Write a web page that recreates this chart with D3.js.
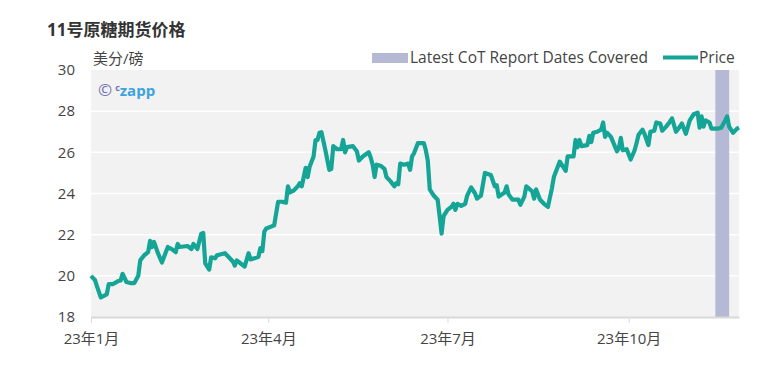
<!DOCTYPE html>
<html>
<head>
<meta charset="utf-8">
<script src="https://cdn.jsdelivr.net/npm/d3@7"></script>
<style>
  body { margin: 0; background: #fff; }
  text { font-family: "Open Sans", "Noto Sans", "Noto Sans CJK SC", sans-serif; }
</style>
</head>
<body>
<div id="chart"></div>
<script>
var svgWidth = 779;
var svgHeight = 380;

var margin = { top: 70, right: 40, bottom: 63, left: 91 };
var width = svgWidth - margin.left - margin.right;
var height = svgHeight - margin.top - margin.bottom;

// price series (US cents / lb)
var priceDates = [
  "2023-01-01","2023-01-03","2023-01-04","2023-01-06","2023-01-09","2023-01-10","2023-01-12","2023-01-13",
  "2023-01-15","2023-01-16","2023-01-17","2023-01-19","2023-01-21","2023-01-23","2023-01-25","2023-01-26",
  "2023-01-28","2023-01-30","2023-01-31","2023-02-01","2023-02-02","2023-02-04","2023-02-06","2023-02-09",
  "2023-02-11","2023-02-13","2023-02-14","2023-02-15","2023-02-19","2023-02-21","2023-02-22","2023-02-24",
  "2023-02-26","2023-02-27","2023-02-28","2023-03-02","2023-03-03","2023-03-05","2023-03-06","2023-03-10",
  "2023-03-12","2023-03-14","2023-03-15","2023-03-16","2023-03-18","2023-03-20","2023-03-22","2023-03-23",
  "2023-03-25","2023-03-27","2023-03-28","2023-03-29","2023-03-30","2023-03-31","2023-04-04","2023-04-06",
  "2023-04-08","2023-04-10","2023-04-11","2023-04-12","2023-04-14","2023-04-16","2023-04-17","2023-04-18",
  "2023-04-20","2023-04-21","2023-04-22","2023-04-24","2023-04-25","2023-04-26","2023-04-27","2023-04-28",
  "2023-04-30","2023-05-02","2023-05-03","2023-05-04","2023-05-06","2023-05-08","2023-05-09","2023-05-10",
  "2023-05-11","2023-05-14","2023-05-16","2023-05-17","2023-05-19","2023-05-22","2023-05-23","2023-05-24",
  "2023-05-25","2023-05-26","2023-05-28","2023-05-30","2023-05-31","2023-06-02","2023-06-04","2023-06-05",
  "2023-06-06","2023-06-07","2023-06-09","2023-06-11","2023-06-12","2023-06-13","2023-06-14","2023-06-16",
  "2023-06-19","2023-06-20","2023-06-21","2023-06-22","2023-06-24","2023-06-26","2023-06-27","2023-06-28",
  "2023-06-29","2023-07-01","2023-07-03","2023-07-04","2023-07-05","2023-07-06","2023-07-08","2023-07-10",
  "2023-07-11","2023-07-13","2023-07-15","2023-07-16","2023-07-18","2023-07-20","2023-07-23","2023-07-25",
  "2023-07-26","2023-07-27","2023-07-30","2023-07-31","2023-08-01","2023-08-03","2023-08-06","2023-08-07",
  "2023-08-09","2023-08-10","2023-08-13","2023-08-14","2023-08-15","2023-08-17","2023-08-19","2023-08-21",
  "2023-08-23","2023-08-24","2023-08-27","2023-08-28","2023-08-30","2023-08-31","2023-09-03","2023-09-04",
  "2023-09-05","2023-09-06","2023-09-07","2023-09-10","2023-09-11","2023-09-12","2023-09-13","2023-09-15",
  "2023-09-17","2023-09-18","2023-09-19","2023-09-20","2023-09-22","2023-09-25","2023-09-26","2023-09-27",
  "2023-09-28","2023-09-30","2023-10-02","2023-10-04","2023-10-05","2023-10-06","2023-10-08","2023-10-09",
  "2023-10-11","2023-10-12","2023-10-14","2023-10-15","2023-10-17","2023-10-18","2023-10-20","2023-10-22",
  "2023-10-23","2023-10-25","2023-10-27","2023-10-28","2023-10-30","2023-11-01","2023-11-03","2023-11-05",
  "2023-11-06","2023-11-07","2023-11-08","2023-11-09","2023-11-11","2023-11-12","2023-11-15","2023-11-17",
  "2023-11-19","2023-11-20","2023-11-21","2023-11-23","2023-11-25","2023-11-26"
];
var prices = [
  20.0, 19.8, 19.5, 18.95, 19.1, 19.6, 19.6, 19.65,
  19.75, 19.77, 20.1, 19.7, 19.65, 19.65, 20.0, 20.75,
  21.0, 21.15, 21.7, 21.4, 21.65, 21.1, 20.65, 21.4,
  21.3, 21.15, 21.55, 21.4, 21.45, 21.3, 21.55, 21.3,
  22.05, 22.08, 20.6, 20.3, 20.9, 20.85, 21.0, 21.1,
  20.9, 20.7, 20.5, 20.75, 20.6, 20.45, 21.1, 20.8,
  20.85, 20.93, 21.35, 21.2, 22.15, 22.3, 22.45, 23.6,
  23.6, 23.55, 24.35, 24.05, 24.15, 24.35, 24.5, 24.35,
  25.25, 24.8, 25.3, 25.8, 26.6, 26.6, 26.95, 26.98,
  26.1, 25.15, 25.2, 26.3, 26.15, 26.15, 26.6, 26.0,
  26.25, 26.3, 26.05, 25.6, 25.8, 26.0, 25.75, 25.4,
  24.8, 25.4, 25.35, 25.2, 24.8, 24.6, 24.35, 24.5,
  24.45, 25.45, 25.4, 25.45, 25.15, 25.8, 25.95, 26.45,
  26.45, 26.1, 25.6, 24.2, 23.9, 23.7, 22.9, 22.05,
  22.9, 23.2, 23.35, 23.5, 23.2, 23.5, 23.4, 23.5,
  23.9, 24.3, 24.0, 23.75, 23.9, 25.0, 24.9, 24.35,
  24.4, 23.85, 24.05, 24.35, 23.95, 23.7, 23.7, 23.45,
  23.85, 24.35, 24.1, 23.75, 24.2, 23.7, 23.5, 23.35,
  24.25, 24.8, 25.55, 25.4, 25.1, 25.8, 25.8, 26.6,
  26.25, 26.6, 26.3, 26.35, 26.8, 26.5, 26.95, 27.0,
  27.1, 27.45, 26.75, 26.95, 26.75, 26.05, 26.2, 26.7,
  26.1, 26.15, 25.65, 26.1, 26.45, 26.85, 27.1, 26.9,
  26.35, 27.0, 27.05, 27.45, 27.4, 27.05, 27.25, 27.5,
  27.65, 27.0, 27.25, 27.4, 26.9, 27.55, 27.85, 27.93,
  27.2, 27.75, 27.25, 27.55, 27.45, 27.15, 27.15, 27.2,
  27.55, 27.75, 27.25, 26.95, 27.15, 27.2
];

var cotRange = ["2023-11-14", "2023-11-21"];
var xDomain = ["2023-01-01", "2023-11-26"];
var xTickDates = ["2023-01-01", "2023-04-01", "2023-07-01", "2023-10-01"];
var xTickLabels = ["23年1月", "23年4月", "23年7月", "23年10月"];
var yTicks = [18, 20, 22, 24, 26, 28, 30];

var parseDate = d3.timeParse("%Y-%m-%d");

var priceData = priceDates.map(function(d, i) {
  return { date: parseDate(d), price: prices[i] };
});

var svg = d3.select("#chart")
  .append("svg")
  .attr("width", svgWidth)
  .attr("height", svgHeight);

var chartGroup = svg.append("g")
  .attr("transform", `translate(${margin.left}, ${margin.top})`);

var xTimeScale = d3.scaleTime()
  .domain(xDomain.map(parseDate))
  .range([0, width]);

var yLinearScale = d3.scaleLinear()
  .domain([18, 30])
  .range([height, 0]);

// plot background
chartGroup.append("rect")
  .attr("width", width)
  .attr("height", height)
  .attr("fill", "#f2f2f2");

// gridlines
chartGroup.append("g")
  .selectAll("line")
  .data(yTicks.slice(1, -1))
  .enter()
  .append("line")
  .attr("x1", 0)
  .attr("x2", width)
  .attr("y1", d => yLinearScale(d))
  .attr("y2", d => yLinearScale(d))
  .attr("stroke", "#ffffff")
  .attr("stroke-width", 1.5);

// CoT band
chartGroup.append("rect")
  .attr("x", xTimeScale(parseDate(cotRange[0])))
  .attr("y", 0)
  .attr("width", xTimeScale(parseDate(cotRange[1])) - xTimeScale(parseDate(cotRange[0])))
  .attr("height", height)
  .attr("fill", "#b5b9d3");

// axes
var leftAxis = d3.axisLeft(yLinearScale)
  .tickValues(yTicks)
  .tickSize(0)
  .tickPadding(16);

var yAxisG = chartGroup.append("g").call(leftAxis);
yAxisG.select(".domain").remove();
yAxisG.selectAll("text")
  .attr("fill", "#444")
  .style("font-size", "15px");

var bottomAxis = d3.axisBottom(xTimeScale)
  .tickValues(xTickDates.map(parseDate))
  .tickFormat((d, i) => xTickLabels[i])
  .tickSizeInner(6)
  .tickSizeOuter(0)
  .tickPadding(10);

var xAxisG = chartGroup.append("g")
  .attr("transform", `translate(0, ${height})`)
  .call(bottomAxis);
xAxisG.select(".domain").attr("stroke", "#d9d9d9").attr("stroke-width", 2);
xAxisG.selectAll(".tick line").attr("stroke", "#d9d9d9");
xAxisG.selectAll("text")
  .attr("fill", "#444")
  .style("font-size", "15px");

// price line
var priceLine = d3.line()
  .x(d => xTimeScale(d.date))
  .y(d => yLinearScale(d.price));

chartGroup.append("path")
  .datum(priceData)
  .attr("d", priceLine)
  .attr("fill", "none")
  .attr("stroke", "#15a597")
  .attr("stroke-width", 4.2)
  .attr("stroke-linejoin", "round");

// title and unit
svg.append("text")
  .attr("x", 47)
  .attr("y", 36)
  .attr("fill", "#333")
  .style("font-size", "17px")
  .style("font-weight", "bold")
  .text("11号原糖期货价格");

svg.append("text")
  .attr("x", 93)
  .attr("y", 64)
  .attr("fill", "#444")
  .style("font-size", "15px")
  .text("美分/磅");

// watermark
var mark = svg.append("text")
  .attr("x", 98)
  .attr("y", 96)
  .style("font-size", "15px");
mark.append("tspan").attr("fill", "#6f73b5").style("font-size", "17px").text("©");
mark.append("tspan").attr("fill", "#6f73b5").attr("dx", 3).attr("dy", -5)
  .style("font-size", "9px").style("font-weight", "bold").text("c");
mark.append("tspan").attr("fill", "#3da2e0").attr("dy", 5)
  .style("font-weight", "bold").text("zapp");

// legend
var legend = svg.append("g");
legend.append("rect")
  .attr("x", 372)
  .attr("y", 53)
  .attr("width", 36)
  .attr("height", 10)
  .attr("fill", "#b5b9d3");
legend.append("text")
  .attr("x", 410)
  .attr("y", 63)
  .attr("fill", "#444")
  .style("font-size", "15.5px")
  .text("Latest CoT Report Dates Covered");
legend.append("line")
  .attr("x1", 663)
  .attr("x2", 698)
  .attr("y1", 57.5)
  .attr("y2", 57.5)
  .attr("stroke", "#15a597")
  .attr("stroke-width", 4);
legend.append("text")
  .attr("x", 699)
  .attr("y", 63)
  .attr("fill", "#444")
  .style("font-size", "15.5px")
  .text("Price");
</script>
</body>
</html>
